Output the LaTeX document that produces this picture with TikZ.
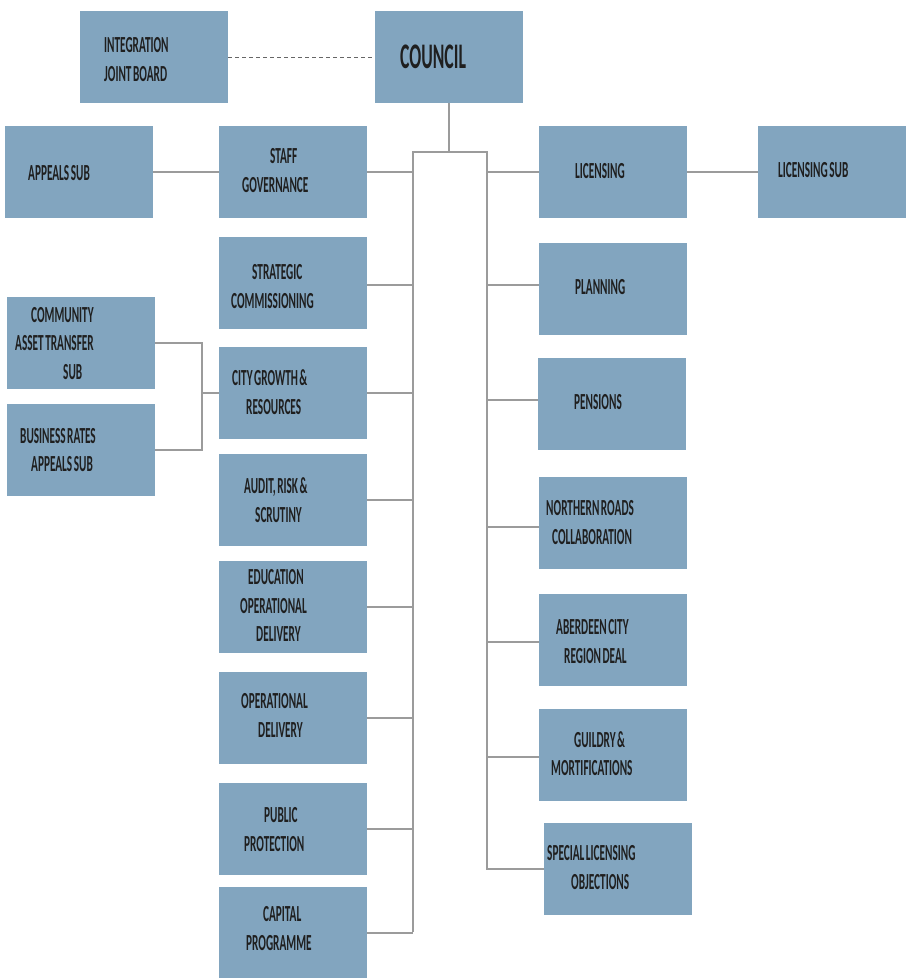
\documentclass[tikz,border=0pt]{standalone}
\usepackage{fontspec}
\newfontfamily\labfont[FakeStretch=0.49,WordSpace=0.6]{Carlito}
\definecolor{boxblue}{RGB}{130,165,191}
\definecolor{linegray}{RGB}{155,155,155}
\tikzset{
  box/.style={fill=boxblue, draw=none, minimum width=148pt, minimum height=92pt, inner sep=0pt},
  lab/.style={font=\labfont\bfseries\fontsize{23}{29}\selectfont, text=black!88, inner sep=0pt, anchor=base west},
  biglab/.style={font=\labfont\bfseries\fontsize{36}{40}\selectfont, text=black!88, inner sep=0pt, anchor=base west},
  conn/.style={draw=linegray, line width=1.5pt},
  dconn/.style={draw=black!60, line width=1pt, dash pattern=on 4pt off 3pt}
}
\begin{document}
\begin{tikzpicture}[x=1pt,y=-1pt]
\useasboundingbox (0,0) rectangle (909,978);
% boxes
\node[box] (ijb) at (154,57) {};
\node[box] (council) at (449,57) {};
\node[box] (appeals) at (79,172) {};
\node[box] (staff) at (293,172) {};
\node[box] (strat) at (293,283) {};
\node[box] (cat) at (81,343) {};
\node[box] (brates) at (81,450) {};
\node[box] (city) at (293,393) {};
\node[box] (audit) at (293,500) {};
\node[box] (edu) at (293,607) {};
\node[box] (oper) at (293,718) {};
\node[box] (public) at (293,829) {};
\node[box] (capital) at (293,933) {};
\node[box] (lic) at (613,172) {};
\node[box] (licsub) at (832,172) {};
\node[box] (plan) at (613,289) {};
\node[box] (pens) at (612,404) {};
\node[box] (north) at (613,523) {};
\node[box] (aber) at (613,640) {};
\node[box] (guild) at (613,755) {};
\node[box] (spec) at (618,869) {};
% texts
\node[lab] (t-ijb1) at (104,52) {INTEGRATION};
\node[lab] (t-ijb2) at (104,81) {JOINT BOARD};
\node[biglab] (t-council) at (400,68.5) {COUNCIL};
\node[lab] (t-app) at (28,180) {APPEALS SUB};
\node[lab] (t-staff1) at (270,163) {STAFF};
\node[lab] (t-staff2) at (242,192) {GOVERNANCE};
\node[lab] (t-strat1) at (252,279) {STRATEGIC};
\node[lab] (t-strat2) at (231,308) {COMMISSIONING};
\node[lab] (t-cat1) at (31,322) {COMMUNITY};
\node[lab] (t-cat2) at (15,350) {ASSET TRANSFER};
\node[lab] (t-cat3) at (63,379) {SUB};
\node[lab] (t-br1) at (20,443) {BUSINESS RATES};
\node[lab] (t-br2) at (31,471) {APPEALS SUB};
\node[lab] (t-city1) at (232,385) {CITY GROWTH \&};
\node[lab] (t-city2) at (246,414) {RESOURCES};
\node[lab] (t-aud1) at (244,493) {AUDIT, RISK \&};
\node[lab] (t-aud2) at (255,522) {SCRUTINY};
\node[lab] (t-edu1) at (248,584) {EDUCATION};
\node[lab] (t-edu2) at (240,613) {OPERATIONAL};
\node[lab] (t-edu3) at (256,641) {DELIVERY};
\node[lab] (t-op1) at (241,708) {OPERATIONAL};
\node[lab] (t-op2) at (258,737) {DELIVERY};
\node[lab] (t-pub1) at (264,822) {PUBLIC};
\node[lab] (t-pub2) at (244,851) {PROTECTION};
\node[lab] (t-cap1) at (263,921) {CAPITAL};
\node[lab] (t-cap2) at (246,950) {PROGRAMME};
\node[lab] (t-lic) at (575,178) {LICENSING};
\node[lab] (t-licsub) at (778,177) {LICENSING SUB};
\node[lab] (t-plan) at (575,294) {PLANNING};
\node[lab] (t-pens) at (574,409) {PENSIONS};
\node[lab] (t-north1) at (546,515) {NORTHERN ROADS};
\node[lab] (t-north2) at (552,544) {COLLABORATION};
\node[lab] (t-aber1) at (556,634) {ABERDEEN CITY};
\node[lab] (t-aber2) at (564,663) {REGION DEAL};
\node[lab] (t-guild1) at (574,747) {GUILDRY \&};
\node[lab] (t-guild2) at (551,775) {MORTIFICATIONS};
\node[lab] (t-spec1) at (547,860) {SPECIAL LICENSING};
\node[lab] (t-spec2) at (571,889) {OBJECTIONS};
% trunk coordinates
\coordinate (tl) at (413,152);
\coordinate (tr) at (487,152);
\coordinate (bl) at (413,932);
\coordinate (br) at (487,869);
\coordinate (cj) at (202,393);
% connectors
\draw[dconn] (ijb.east) -- (council.west);
\draw[conn] (council.south) -- (council.south |- tl);
\draw[conn] (bl) -- (tl) -- (tr) -- (br) -- (spec.west);
\foreach \n in {staff,city,audit,edu,oper,public,capital}
  \draw[conn] (\n.east) -- (\n.east -| tl);
\draw[conn] ([yshift=-2pt]strat.east) -- ([yshift=-2pt]strat.east -| tl);
\draw[conn] (lic.west) -- (lic.west -| tr);
\foreach \n/\s in {plan/4,pens/4,north/-4,aber/-2,guild/-2}
  \draw[conn] ([yshift=\s pt]\n.west) -- ([yshift=\s pt]\n.west -| tr);
\draw[conn] (appeals.east) -- (staff.west);
\draw[conn] (lic.east) -- (licsub.west);
\draw[conn] (cat.east) -- (cat.east -| cj) -- (brates.east -| cj) -- (brates.east);
\draw[conn] (cj) -- (city.west);
\end{tikzpicture}
\end{document}
